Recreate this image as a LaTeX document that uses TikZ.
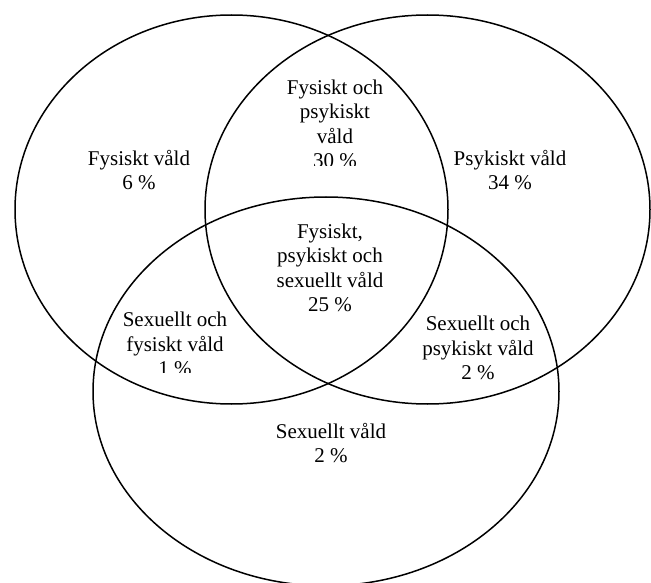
\documentclass[tikz,border=0pt]{standalone}
\usepackage{fontspec}
\setmainfont{Liberation Serif}
\tikzset{
	set/.style={line width=1.5pt},
	lbl/.style={align=center, font=\fontsize{21}{24.5}\selectfont}
}
\begin{document}
\begin{tikzpicture}[x=1pt,y=-1pt]
	\useasboundingbox (0,0) rectangle (651,583);
	% the three sets
	\draw[set] (231.5,209.5) ellipse [x radius=216.5pt, y radius=194.5pt];
	\draw[set] (427.5,209.5) ellipse [x radius=222.5pt, y radius=194.5pt];
	\draw[set] (326,391.4) ellipse [x radius=233pt, y radius=194.4pt];
	% labels
	\node[lbl] (fys) at (139,170) {Fysiskt våld\\6 \%};
	\node[lbl] (psy) at (510,170) {Psykiskt våld\\34 \%};
	\begin{scope}
		\clip (240,60) rectangle (420,166);
		\node[lbl] (fyspsy) at (335,124) {Fysiskt och\\psykiskt\\våld\\30 \%};
	\end{scope}
	\node[lbl] (alla) at (330,268) {Fysiskt,\\psykiskt och\\sexuellt våld\\25 \%};
	\begin{scope}
		\clip (100,290) rectangle (250,372);
		\node[lbl] (sexfys) at (175,344) {Sexuellt och\\fysiskt våld\\1 \%};
	\end{scope}
	\node[lbl] (sexpsy) at (478,348) {Sexuellt och\\psykiskt våld\\2 \%};
	\node[lbl] (sex) at (331,443) {Sexuellt våld\\2 \%};
\end{tikzpicture}
\end{document}
